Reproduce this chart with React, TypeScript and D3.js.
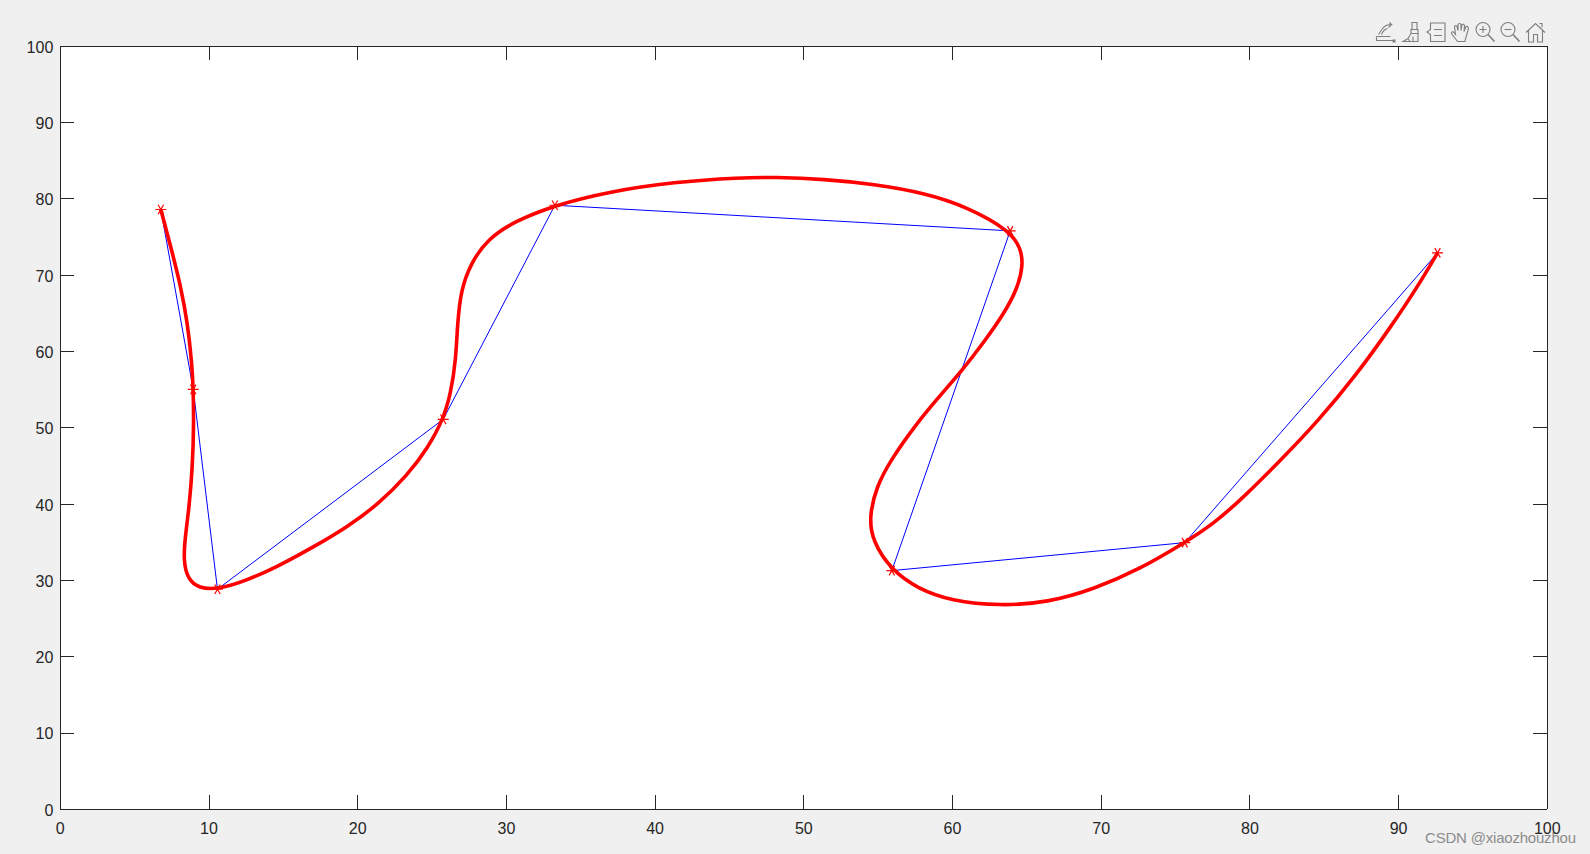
import React, { useRef, useEffect } from "react";
import * as d3 from "d3";

// control polygon
const ctrlX = [6.76, 8.94, 10.57, 25.75, 33.26, 63.88, 55.92, 75.62, 92.62];
const ctrlY = [78.61, 55.03, 28.84, 51.11, 79.17, 75.81, 31.28, 34.95, 72.93];

// red curve
const curveX = [
  6.76, 7.43, 8.11, 8.56, 8.85, 8.94, 8.98, 8.89, 8.67, 8.4, 8.28, 8.55, 9.34, 10.57,
  12.36, 14.61, 17.07, 19.32, 21.33, 23.35, 24.7, 25.75, 26.26, 26.6, 26.71, 26.94,
  27.61, 28.73, 30.52, 33.26, 36.8, 41.28, 45.77, 48.01, 51.37, 54.73, 58.09, 61.01,
  63.88, 64.6, 64.75, 64.37, 63.47, 62.13, 60.67, 58.99, 57.42, 55.85, 54.88, 54.4,
  54.6, 55.92, 57.65, 59.89, 63.25, 66.39, 69.52, 72.67, 75.62, 77.6, 79.61, 81.86,
  84.55, 87.24, 89.48, 91.27, 92.62,
];
const curveY = [
  78.61, 73.72, 68.47, 63.68, 58.44, 55.03, 50.58, 44.9, 39.66, 35.73, 32.68, 30.2, 28.95, 28.84,
  29.84, 31.8, 34.42, 37.04, 39.88, 43.81, 47.31, 51.11, 54.51, 58.87, 63.68, 68.04,
  71.6, 74.7, 77.05, 79.17, 80.92, 82.23, 82.8, 82.85, 82.6, 81.93, 80.79, 78.95,
  75.81, 73.5, 71.32, 68.26, 64.99, 61.27, 57.56, 53.86, 50.14, 45.78, 42.28, 38.35,
  35.2, 31.28, 28.95, 27.3, 26.65, 27.1, 28.85, 31.55, 34.95, 37.48, 40.97, 45.34,
  50.79, 57.13, 63.24, 68.47, 72.93,
];

const tickValues = [0, 10, 20, 30, 40, 50, 60, 70, 80, 90, 100];

const width = 1590;
const height = 854;
const tickColor = "#262626";
const iconColor = "#7f7f7f";

const App = () => {
  const ref = useRef<SVGSVGElement>(null);

  useEffect(() => {
    const svg = d3.select(ref.current);
    svg.selectAll(".plot").remove();
    const g = svg.append("g").attr("class", "plot");

    const x = d3.scaleLinear().domain([0, 100]).range([0, 1487]);
    const y = d3.scaleLinear().domain([0, 100]).range([763, 0]);

    g.attr("transform", "translate(60.3,46.3)");

    g.append("rect")
      .attr("width", 1487)
      .attr("height", 763)
      .attr("fill", "#fff");

    const axes = [
      { axis: d3.axisBottom(x).tickPadding(13), at: [0, 763], labels: true },
      { axis: d3.axisTop(x), at: [0, 0], labels: false },
      { axis: d3.axisLeft(y).tickPadding(7), at: [0, 0], labels: true },
      { axis: d3.axisRight(y), at: [1487, 0], labels: false },
    ];
    axes.forEach(({ axis, at, labels }, i) => {
      const a = g
        .append("g")
        .attr("transform", `translate(${at[0]},${at[1]})`)
        .call(axis.tickValues(tickValues).tickSizeInner(-14).tickSizeOuter(0).offset(0));
      a.selectAll("path,line")
        .attr("stroke", tickColor)
        .attr("stroke-width", 1)
        .attr("shape-rendering", "crispEdges");
      a.selectAll("text")
        .attr("fill", tickColor)
        .style("font", "16px 'Liberation Sans'")
        .text((d: any) => (labels ? d : ""));
      if (i === 2) a.selectAll("text").attr("dy", "0.4em");
    });

    const ctrlPts = ctrlX.map((d, i) => [x(d), y(ctrlY[i])] as [number, number]);
    const curvePts = curveX.map((d, i) => [x(d), y(curveY[i])] as [number, number]);

    g.append("path")
      .attr("d", d3.line()(ctrlPts))
      .attr("fill", "none")
      .attr("stroke", "#0000ff")
      .attr("stroke-width", 1);

    g.append("path")
      .attr("d", d3.line().curve(d3.curveBasis)(curvePts))
      .attr("fill", "none")
      .attr("stroke", "#ff0000")
      .attr("stroke-width", 3.6)
      .attr("stroke-linejoin", "round");

    const star = d3.symbol(d3.symbolAsterisk, 85);
    g.selectAll(".marker")
      .data(ctrlPts)
      .join("path")
      .attr("class", "marker")
      .attr("d", star())
      .attr("transform", (d) => `translate(${d[0]},${d[1]}) rotate(90)`)
      .attr("fill", "none")
      .attr("stroke", "#ff0000")
      .attr("stroke-width", 1.2);
  }, []);

  return (
    <svg
      ref={ref}
      width={width}
      height={height}
      style={{ position: "absolute", left: 0, top: 0, background: "#f0f0f0" }}
    >
      <g fill="none" stroke={iconColor} strokeWidth={1.1}>
        <g transform="translate(1385.5,32.5)">
          <path d="M-7 2 L-3 -4 Q0 -8 6 -8 L4 -10 M6 -8 L3 -5 M-4 2 Q-2 -3 2 -4" />
          <path d="M-9 4 V8 H8 M-9 4 H5" />
          <path d="M7 7 L10 7 L10 10 L7 10 Z" fill={iconColor} stroke="none" />
        </g>
        <g transform="translate(1411,32.5)">
          <path d="M1 -10 H6 V-3 H1 Z M0 -3 H7 V1 H0 Z" />
          <path d="M0 1 L-3 6 L-8 9 H7 V1 M-3 6 L-1 9 M2 4 V9" />
        </g>
        <g transform="translate(1436,32.5)">
          <path d="M-5.5 -9.5 H9 V9 H-5.5 V2 L-9 -0.5 L-5.5 -3 Z" />
          <path d="M-2 -3 H6 M-2 3 H6" />
        </g>
        <g transform="translate(1460.5,32.5)">
          <path d="M-3 9 Q-6 5 -9 1 Q-9.5 -1 -7 -0.5 L-5 2 L-6 -6 Q-5 -8 -3.5 -6 L-2.5 -2 L-2.5 -8 Q-1 -10 0.5 -8 L0.5 -2 L1.5 -8 Q3 -9 4 -7 L3.5 -1 L5.5 -6 Q7.5 -6.5 8 -4 L6 3 Q5 6 4.5 9 Z" />
        </g>
        <g transform="translate(1485,32.5)">
          <circle cx={-2} cy={-3} r={7} />
          <path d="M3 2 L9.5 9" strokeWidth={1.6} />
          <path d="M-5.5 -3 H1.5 M-2 -6.5 V0.5" />
        </g>
        <g transform="translate(1510,32.5)">
          <circle cx={-2} cy={-3} r={7} />
          <path d="M3 2 L9.5 9" strokeWidth={1.6} />
          <path d="M-5.5 -3 H1.5" />
        </g>
        <g transform="translate(1535.5,32.5)">
          <path d="M-9.5 0 L0 -9 L9.5 0 M-7 -2 V9.5 H-2 V2 H2 V9.5 H7 V-2 M4 -9 H6.5 V-5" />
        </g>
      </g>
      <text
        x={1425}
        y={843}
        fontFamily="Liberation Sans"
        fontSize={15}
        fill="#8c8c8c"
        textLength={151}
      >
        CSDN @xiaozhouzhou
      </text>
    </svg>
  );
};

export default App;
